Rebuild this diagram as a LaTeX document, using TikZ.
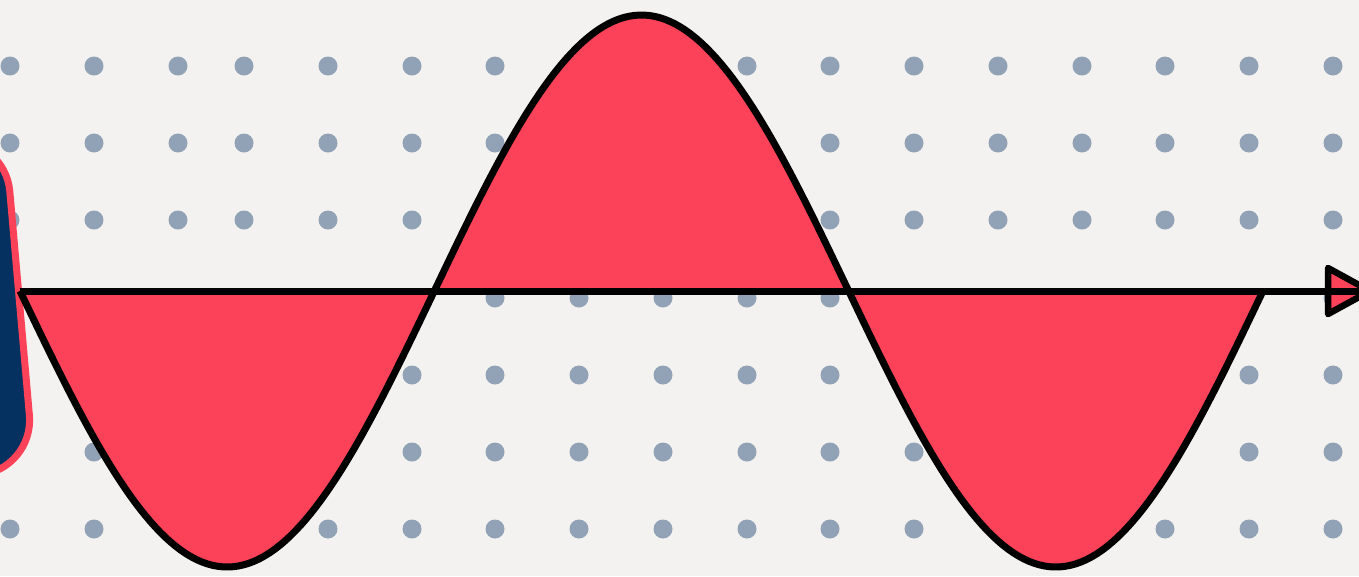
\documentclass[tikz,border=0pt]{standalone}
\usetikzlibrary{positioning}
\definecolor{wavered}{RGB}{252,66,88}
\definecolor{panelnavy}{RGB}{4,49,96}
\definecolor{dotgray}{RGB}{146,162,182}
\definecolor{paper}{RGB}{243,242,240}

\begin{document}
\begin{tikzpicture}[
  x=0.02cm, y=-0.02cm,
  dot/.style={fill=dotgray},
  thickline/.style={line width=0.14cm, draw=black, line join=round},
  panel/.style={rectangle, rounded corners=1.1cm, fill=panelnavy, draw=wavered,
                line width=0.14cm, minimum width=4cm, minimum height=6.7cm}
]

% canvas
\fill[paper] (0,0) rectangle (1359,576);
\useasboundingbox (0,0) rectangle (1359,576);
\clip (0,0) rectangle (1359,576);

% dot grid
\foreach \gx in {10,94,178,244,328,412,495,579,663,747,830,914,998,1082,1165,1249,1333}
  \foreach \gy in {66,143,220,298,375,452,529}
    \fill[dot] (\gx,\gy) circle[radius=9.5];

% side panel
\node[panel, rotate=5] (sidepanel) at (-80,312) {};

% axis end points
\coordinate (origin) at (20,291);
\coordinate (tip) at (1370,291);

% wave
\fill[wavered] (origin) -- plot[domain=20:1263, samples=240]
  (\x, {291+276*sin((\x-20)/414.33*180)}) -- cycle;
\draw[thickline] plot[domain=20:1263, samples=240]
  (\x, {291+276*sin((\x-20)/414.33*180)});

% arrow head and axis
\draw[thickline, fill=wavered, line width=0.13cm] (1328,268) -- (tip) -- (1328,314) -- cycle;
\draw[thickline] (origin) -- (tip);

\end{tikzpicture}
\end{document}
